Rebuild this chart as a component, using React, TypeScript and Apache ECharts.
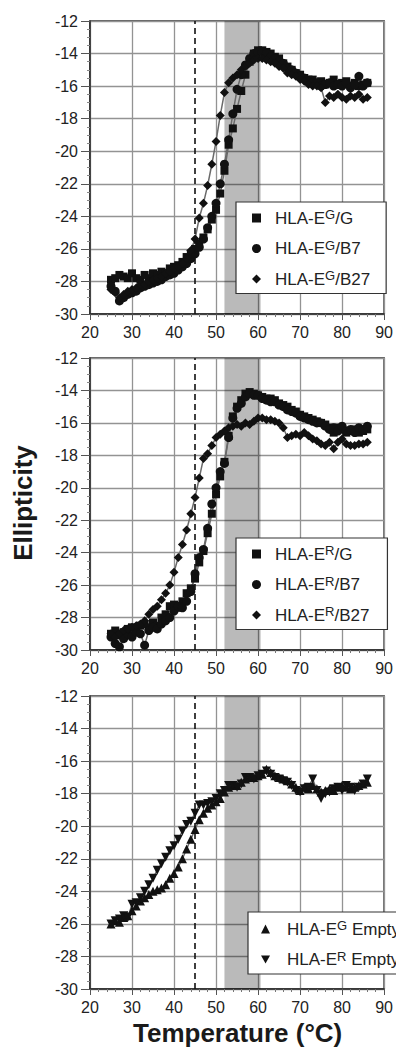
import React, { useEffect, useRef } from "react";
import * as echarts from "echarts";

// Temperature (°C) of every measured point
const TEMPS = [
  25, 26, 27, 28, 29, 30, 31, 32, 33, 34, 35, 36, 37, 38, 39, 40, 41, 42, 43, 44, 45,
  46, 47, 48, 49, 50, 51, 52, 53, 54, 55, 56, 57, 58, 59, 60, 61, 62, 63, 64, 65, 66,
  67, 68, 69, 70, 71, 72, 73, 74, 75, 76, 77, 78, 79, 80, 81, 82, 83, 84, 85, 86,
];

// Panel 1 – HLA-E(G)
const EG_G = [
  -27.9, -27.8, -27.6, -27.7, -27.8, -27.5, -27.8, -27.9, -27.6, -27.8, -27.5, -27.6, -27.4, -27.5, -27.2, -27.1, -27.0, -26.8, -26.5, -26.3, -26.0,
  -25.7, -25.3, -24.8, -24.2, -23.6, -22.6, -21.2, -19.6, -18.6, -17.4, -16.3, -15.3, -14.5, -14.0, -13.8, -13.8, -13.9, -14.0, -14.2, -14.3, -14.6,
  -14.8, -15.0, -15.2, -15.3, -15.5, -15.6, -15.6, -15.8, -15.7, -15.9, -15.8, -15.6, -15.9, -15.8, -15.7, -16.0, -15.8, -16.0, -15.9, -15.8,
];
const EG_B7 = [
  -28.3, -28.6, -29.2, -29.0, -28.8, -28.7, -28.6, -28.4, -28.3, -28.2, -28.1, -28.0, -27.9, -27.7, -27.6, -27.5, -27.3, -27.1, -26.9, -26.6, -26.3,
  -25.9, -25.4, -24.7, -24.0, -23.2, -22.0, -20.8, -19.3, -17.7, -16.2, -15.3, -14.7, -14.3, -14.0, -13.9, -13.9, -14.0, -14.2, -14.3, -14.5, -14.6,
  -14.9, -15.0, -15.2, -15.4, -15.5, -15.7, -15.8, -15.8, -16.0, -15.9, -15.8, -16.0, -15.9, -16.0, -15.8, -16.1, -15.9, -15.4, -16.0, -15.8,
];
const EG_B27 = [
  -28.5, -28.7, -29.0, -28.8, -28.6, -28.5, -28.4, -28.2, -28.2, -28.0, -27.9, -27.8, -27.7, -27.5, -27.4, -27.2, -27.1, -26.9, -26.6, -26.1, -25.4,
  -24.1, -23.2, -22.1, -20.8, -19.4, -17.8, -16.4, -15.8, -15.5, -15.3, -15.0, -14.8, -14.6, -14.4, -14.3, -14.3, -14.4, -14.5, -14.6, -14.8, -14.9,
  -15.2, -15.3, -15.4, -15.6, -15.7, -15.9, -16.0, -16.0, -16.1, -17.0, -16.6, -16.7, -16.5, -16.7, -16.8, -16.6, -16.7, -16.5, -16.8, -16.7,
];

// Panel 2 – HLA-E(R)
const ER_G = [
  -29.0, -28.8, -29.1, -28.9, -28.7, -28.6, -28.8, -28.5, -28.4, -28.6, -28.3, -28.5, -28.0, -27.8, -27.3, -27.2, -27.4, -27.0, -26.5, -26.2, -25.6,
  -24.6, -23.9, -22.8, -21.6, -20.4, -19.3, -18.4, -16.8, -15.6, -15.0, -14.6, -14.2, -14.1, -14.2, -14.3, -14.4, -14.5, -14.5, -14.6, -14.8, -14.9,
  -15.0, -15.2, -15.3, -15.5, -15.6, -15.7, -15.8, -15.9, -16.0, -16.1, -16.3, -16.6, -16.3, -16.4, -16.6, -16.5, -16.4, -16.6, -16.5, -16.4,
];
const ER_B7 = [
  -29.2, -29.6, -29.8, -29.3, -29.0, -29.2, -28.9, -29.0, -29.7, -28.8, -28.6, -28.7, -28.4, -28.2, -28.0, -27.6, -27.3, -27.4, -27.0, -26.4, -25.3,
  -24.3, -23.8, -22.5, -21.0, -20.0, -19.0, -18.5, -16.9, -15.7, -15.1, -14.8, -14.4, -14.2, -14.3, -14.3, -14.5, -14.6, -14.7, -14.7, -14.9, -15.0,
  -15.2, -15.3, -15.4, -15.6, -15.7, -15.8, -15.9, -16.0, -16.0, -16.2, -16.4, -16.3, -16.5, -16.2, -16.5, -16.4, -16.6, -16.3, -16.4, -16.2,
];
const ER_B27 = [
  -29.0, -29.2, -29.0, -28.8, -28.7, -28.6, -28.5, -28.4, -28.2, -27.8, -27.5, -27.3, -26.9, -26.5, -26.0, -25.2, -24.3, -23.5, -22.6, -21.6, -20.6,
  -19.4, -18.2, -17.9, -17.4, -16.9, -16.7, -16.5, -16.3, -16.2, -16.1, -16.2, -16.0, -16.1, -15.9, -15.7, -15.7, -15.8, -15.8, -15.9, -16.0, -16.3,
  -16.9, -16.8, -16.7, -16.8, -16.6, -16.8, -17.0, -17.1, -17.3, -17.4, -17.2, -17.6, -17.2, -17.0, -17.3, -17.4, -17.4, -17.3, -17.3, -17.2,
];

// Panel 3 – empty HLA-E
const EG_EMPTY = [
  -26.0, -25.8, -25.9, -25.6, -25.5, -25.2, -24.9, -24.6, -24.4, -24.2, -24.0, -23.9, -23.8, -23.6, -23.2, -22.9, -22.5, -22.0, -21.4, -20.8, -20.2,
  -19.6, -19.2, -18.9, -18.7, -18.5, -18.3, -17.9, -17.6, -17.5, -17.5, -17.3, -17.1, -17.0, -17.0, -16.9, -16.8, -16.5, -16.7, -16.9, -17.0, -17.1,
  -17.2, -17.4, -17.6, -17.8, -17.6, -17.7, -17.5, -17.7, -17.9, -17.8, -17.7, -17.8, -17.6, -17.5, -17.6, -17.7, -17.6, -17.5, -17.4, -17.3,
];
const ER_EMPTY = [
  -26.0, -25.8, -25.7, -25.5, -25.6, -24.8, -24.7, -24.4, -24.0, -23.6, -23.2, -22.7, -22.3, -21.9, -21.5, -21.2, -20.8, -20.3, -19.9, -19.7, -19.2,
  -18.7, -18.7, -18.6, -18.5, -18.3, -18.0, -17.8, -17.5, -17.5, -17.6, -17.4, -17.0, -17.0, -17.1, -16.9, -16.8, -16.6, -16.8, -17.0, -17.1, -17.2,
  -17.3, -17.5, -17.8, -17.9, -17.7, -17.6, -17.1, -17.8, -18.3, -18.0, -17.9, -17.7, -17.6, -17.8, -17.5, -17.6, -17.8, -17.6, -17.4, -17.1,
];

const X_MIN = 20;
const X_MAX = 90;
const X_STEP = 10;
const Y_MIN = -30;
const Y_MAX = -12;
const Y_STEP = 2;
const DASHED_T = 45;
const BAND = [52, 60.6];

// legend text parts: [main, superscript, rest]
const LEGEND_PARTS: Record<string, string[]> = {
  "HLA-EG/G": ["HLA-E", "G", "/G"],
  "HLA-EG/B7": ["HLA-E", "G", "/B7"],
  "HLA-EG/B27": ["HLA-E", "G", "/B27"],
  "HLA-ER/G": ["HLA-E", "R", "/G"],
  "HLA-ER/B7": ["HLA-E", "R", "/B7"],
  "HLA-ER/B27": ["HLA-E", "R", "/B27"],
  "HLA-EG Empty": ["HLA-E", "G", " Empty"],
  "HLA-ER Empty": ["HLA-E", "R", " Empty"],
};

const DOWN_TRI = "path://M0,0L10,0L5,9Z";

const PANELS = [
  {
    series: [
      { name: "HLA-EG/G", data: EG_G, symbol: "rect", size: 8 },
      { name: "HLA-EG/B7", data: EG_B7, symbol: "circle", size: 9 },
      { name: "HLA-EG/B27", data: EG_B27, symbol: "diamond", size: 9 },
    ],
    top: 21,
    height: 293,
    legend: { left: 236, top: 202, padding: [6, 16, 6, 16], gap: 9 },
  },
  {
    series: [
      { name: "HLA-ER/G", data: ER_G, symbol: "rect", size: 8 },
      { name: "HLA-ER/B7", data: ER_B7, symbol: "circle", size: 9 },
      { name: "HLA-ER/B27", data: ER_B27, symbol: "diamond", size: 9 },
    ],
    top: 358,
    height: 292,
    legend: { left: 236, top: 538, padding: [6, 18, 6, 16], gap: 9 },
  },
  {
    series: [
      { name: "HLA-EG Empty", data: EG_EMPTY, symbol: "triangle", size: 9 },
      { name: "HLA-ER Empty", data: ER_EMPTY, symbol: DOWN_TRI, size: 9 },
    ],
    top: 696,
    height: 293,
    legend: { left: 248, top: 912, padding: [7, 40, 6, 13], gap: 12 },
  },
];

const FONT = "'Liberation Sans', Arial, Helvetica, sans-serif";

export default function App() {
  const ref = useRef<HTMLDivElement>(null);

  useEffect(() => {
    if (!ref.current) return;
    const chart = echarts.init(ref.current, null, { renderer: "svg" });

    const grids: any[] = [];
    const xAxes: any[] = [];
    const yAxes: any[] = [];
    const series: any[] = [];
    const legends: any[] = [];

    PANELS.forEach((p, gi) => {
      grids.push({
        left: 90,
        top: p.top,
        width: 295,
        height: p.height,
        show: true,
        borderColor: "#2a2a2a",
        borderWidth: 1.5,
        backgroundColor: "transparent",
      });
      xAxes.push({
        type: "value",
        gridIndex: gi,
        min: X_MIN,
        max: X_MAX,
        interval: X_STEP,
        axisLine: { show: true, onZero: false, lineStyle: { color: "#2a2a2a", width: 1.5 } },
        axisTick: { show: true, length: 6, lineStyle: { color: "#555" } },
        minorTick: { show: true, splitNumber: 5, length: 3, lineStyle: { color: "#777" } },
        splitLine: { show: true, lineStyle: { color: "#939393", width: 1.3 } },
        axisLabel: { fontSize: 16, color: "#222", fontFamily: FONT, margin: 10 },
      });
      yAxes.push({
        type: "value",
        gridIndex: gi,
        min: Y_MIN,
        max: Y_MAX,
        interval: Y_STEP,
        axisLine: { show: true, onZero: false, lineStyle: { color: "#2a2a2a", width: 1.5 } },
        axisTick: { show: true, length: 9, lineStyle: { color: "#555" } },
        minorTick: { show: true, splitNumber: 4, length: 3, lineStyle: { color: "#888" } },
        splitLine: { show: true, lineStyle: { color: "#939393", width: 1.3 } },
        axisLabel: { fontSize: 16, color: "#222", fontFamily: FONT, margin: 12 },
      });

      p.series.forEach((s, si) => {
        const ser: any = {
          type: "line",
          name: s.name,
          xAxisIndex: gi,
          yAxisIndex: gi,
          data: TEMPS.map((t, i) => [t, s.data[i]]),
          symbol: s.symbol,
          symbolSize: s.size,
          showAllSymbol: true,
          itemStyle: { color: "#111" },
          lineStyle: { color: "#6a6a6a", width: 1.5 },
          z: 3,
        };
        if (si === 0) {
          ser.markArea = {
            silent: true,
            itemStyle: { color: "rgba(0,0,0,0.27)" },
            data: [[{ xAxis: BAND[0] }, { xAxis: BAND[1] }]],
          };
          ser.markLine = {
            silent: true,
            symbol: "none",
            label: { show: false },
            lineStyle: { color: "#111", type: [6, 4], width: 1.6 },
            data: [{ xAxis: DASHED_T }],
          };
        }
        series.push(ser);
      });

      legends.push({
        orient: "vertical",
        left: p.legend.left,
        top: p.legend.top,
        backgroundColor: "#fff",
        borderColor: "#333",
        borderWidth: 1.2,
        borderRadius: 0,
        padding: p.legend.padding,
        itemGap: 12,
        itemWidth: 9,
        itemHeight: 9,
        data: p.series.map((s) => ({ name: s.name, icon: s.symbol })),
        formatter: (name: string) => {
          const parts = LEGEND_PARTS[name];
          return `{p| }{a|${parts[0]}}{s|${parts[1]}}{a|${parts[2]}}`;
        },
        textStyle: {
          fontFamily: FONT,
          color: "#222",
          rich: {
            p: { width: p.legend.gap, fontSize: 17, lineHeight: 20 },
            a: { fontSize: 17, lineHeight: 20, color: "#222", fontFamily: FONT },
            s: { fontSize: 13, lineHeight: 15, verticalAlign: "top", color: "#222", fontFamily: FONT },
          },
        },
        selectedMode: false,
      });
    });

    chart.setOption({
      animation: false,
      backgroundColor: "#fff",
      grid: grids,
      xAxis: xAxes,
      yAxis: yAxes,
      series,
      legend: legends,
      graphic: [
        {
          type: "text",
          left: 133,
          top: 1020,
          style: {
            text: "Temperature (°C)",
            fontSize: 26,
            fontWeight: "bold",
            fontFamily: FONT,
            fill: "#1a1a1a",
          },
        },
        {
          type: "text",
          x: 23,
          y: 503,
          rotation: Math.PI / 2,
          style: {
            text: "Ellipticity",
            fontSize: 26,
            fontWeight: "bold",
            fontFamily: FONT,
            fill: "#1a1a1a",
            align: "center",
            verticalAlign: "middle",
          },
        },
      ],
    });

    return () => chart.dispose();
  }, []);

  return (
    <div
      ref={ref}
      style={{ position: "absolute", left: 0, top: 0, width: 396, height: 1051 }}
    />
  );
}
